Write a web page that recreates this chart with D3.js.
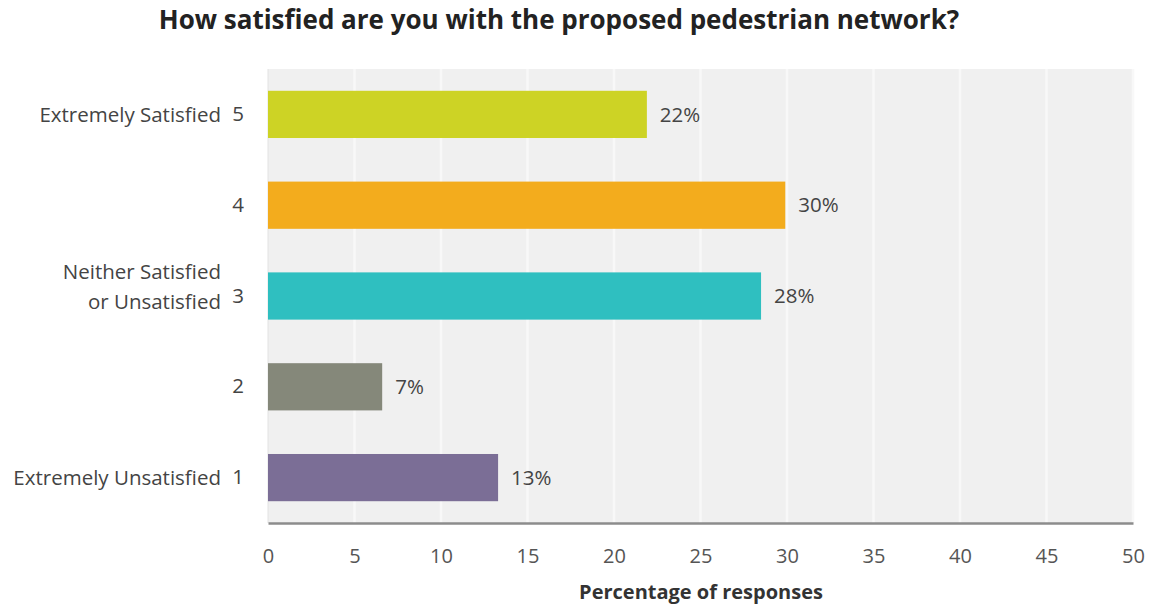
<!DOCTYPE html>
<html><head><meta charset="utf-8">
<script src="https://cdn.jsdelivr.net/npm/d3@7"></script>
<style>body{margin:0;background:#fff}svg{display:block}text{font-family:"Open Sans",sans-serif}</style>
</head><body><svg id="c" width="1155" height="607"></svg>
<script>
const codes = ["5","4","3","2","1"];
const categories = [["Extremely Satisfied"],[""],["Neither Satisfied","or Unsatisfied"],[""],["Extremely Unsatisfied"]];
const values = [21.9, 29.9, 28.5, 6.6, 13.3];
const valueLabels = ["22%","30%","28%","7%","13%"];
const colors = ["#cdd325","#f3ac1d","#2fbfc0","#85887a","#7b6e96"];
const xTicks = [0,5,10,15,20,25,30,35,40,45,50];

const svg = d3.select("#c");
const m = {l:268, r:1133, t:69, b:523};
const x = d3.scaleLinear().domain([0,50]).range([m.l, m.r]);
const y = d3.scaleBand().domain(codes).range([m.t, m.b]).paddingInner(0.48).paddingOuter(0.24);

svg.append("rect").attr("x",m.l).attr("y",m.t).attr("width",m.r-m.l).attr("height",m.b-m.t).attr("fill","#f0f0f0");
svg.append("g").selectAll("line").data(xTicks.slice(1)).join("line")
  .attr("x1",d=>x(d)).attr("x2",d=>x(d)).attr("y1",m.t).attr("y2",m.b)
  .attr("stroke","#f8f8f8").attr("stroke-width",2.5);
svg.append("line").attr("x1",m.l).attr("x2",m.l).attr("y1",m.t).attr("y2",m.b).attr("stroke","#e2e2e2").attr("stroke-width",1);

svg.append("g").selectAll("rect").data(values).join("rect")
  .attr("x",x(0)).attr("y",(d,i)=>y(codes[i])).attr("width",d=>x(d)-x(0)).attr("height",y.bandwidth())
  .attr("fill",(d,i)=>colors[i]);

svg.append("g").selectAll("text").data(values).join("text")
  .attr("x",d=>x(d)+13).attr("y",(d,i)=>y(codes[i])+y.bandwidth()/2).attr("dy","0.35em")
  .attr("font-size",20.5).attr("fill","#444").text((d,i)=>valueLabels[i]);

// x axis
const xa = svg.append("g").attr("transform",`translate(0,${m.b})`)
  .call(d3.axisBottom(x).tickValues(xTicks).tickSize(0).tickPadding(26));
xa.select(".domain").attr("stroke","#8c8c8c").attr("stroke-width",2.5);
xa.selectAll("text").attr("font-size",20).attr("fill","#555").attr("font-family","Open Sans, sans-serif");

// y axis
const ya = svg.append("g").attr("transform",`translate(${m.l},0)`)
  .call(d3.axisLeft(y).tickSize(0).tickPadding(24));
ya.select(".domain").remove();
ya.selectAll("text").attr("font-size",20.5).attr("fill","#444").attr("font-family","Open Sans, sans-serif");

const cl = svg.append("g");
codes.forEach((c,i)=>{
  const lines = categories[i];
  const cy = y(c)+y.bandwidth()/2;
  const n = lines.length;
  lines.forEach((t,j)=>{
    cl.append("text").attr("x",221).attr("y",cy + (j-(n-1)/2)*30 - (n>1?9:0)).attr("dy","0.35em")
      .attr("text-anchor","end").attr("font-size",20.5).attr("fill","#444").text(t);
  });
});

svg.append("text").attr("x",559).attr("y",29).attr("text-anchor","middle")
  .attr("font-size",26).attr("font-weight","bold").attr("fill","#222")
  .text("How satisfied are you with the proposed pedestrian network?");
svg.append("text").attr("x",701).attr("y",599).attr("text-anchor","middle")
  .attr("font-size",20).attr("font-weight","bold").attr("fill","#333")
  .text("Percentage of responses");
</script></body></html>
